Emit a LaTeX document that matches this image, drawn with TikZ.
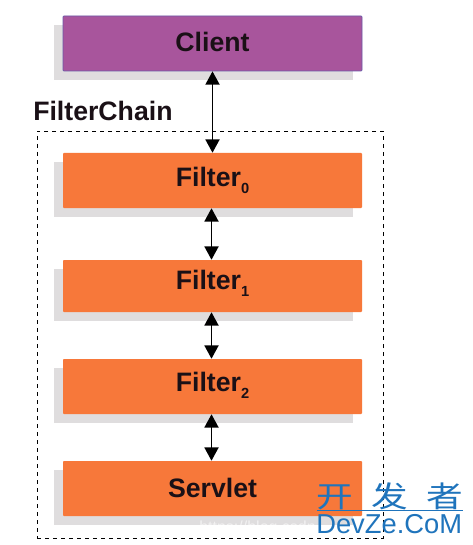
\documentclass[tikz,border=0pt]{standalone}
\usepackage{fontspec}
\setmainfont{Liberation Sans}
\newfontfamily\cjk{Noto Sans CJK SC}
\usetikzlibrary{arrows.meta}
\definecolor{orangebox}{HTML}{F7783A}
\definecolor{purplebox}{HTML}{A8559C}
\definecolor{clientedge}{HTML}{6A5AA8}
\definecolor{shadowgrey}{HTML}{DFDDDE}
\definecolor{markblue}{HTML}{1F74BC}
\definecolor{inktext}{HTML}{1A1016}
\newcommand{\lowsub}[1]{\raisebox{-5.5pt}{\fontsize{11}{12}\selectfont #1}}
\tikzset{
  x=0.75pt,y=-0.75pt,
  boxbase/.style={minimum width=224.25pt,minimum height=41.25pt,inner sep=0pt,rounded corners=0.7pt},
  boxtext/.style={anchor=base,inner sep=0pt,font=\bfseries\fontsize{20}{22}\selectfont,text=inktext},
  filterbox/.style={boxbase,fill=orangebox},
  clientbox/.style={boxbase,fill=purplebox,draw=clientedge,line width=0.5pt},
  shadowbox/.style={fill=shadowgrey},
  link/.style={line width=1.4pt,{Triangle[width=10.5pt,length=10pt]}-{Triangle[width=10.5pt,length=10pt]}},
}
\begin{document}
\begin{tikzpicture}
\useasboundingbox (0,0) rectangle (473,545);
\fill[white] (0,0) rectangle (473,545);
% shadows
\fill[shadowbox] (54,25) rectangle (353,80);
\fill[shadowbox] (54,162) rectangle (353,217);
\fill[shadowbox] (54,269) rectangle (353,321);
\fill[shadowbox] (54,368) rectangle (353,423);
\fill[shadowbox] (54,470) rectangle (353,525);
% boundary
\node[draw=black,dashed,line width=0.7pt,minimum width=259.5pt,minimum height=305.25pt,inner sep=0pt] (chain) at (210,334.5) {};
\node[anchor=base west,inner sep=0pt,font=\bfseries\fontsize{20}{22}\selectfont,text=inktext] (chainlabel) at (33,120.5) {FilterChain};
% boxes
\node[clientbox] (client) at (212.5,43.5) {};
\node[filterbox] (f0) at (212.5,180.5) {};
\node[filterbox,minimum height=39pt] (f1) at (212.5,286) {};
\node[filterbox] (f2) at (212.5,386.5) {};
\node[filterbox] (servlet) at (212.5,488.5) {};
% labels
\node[boxtext] (tclient) at (212.5,52) {Client};
\node[boxtext] (tf0) at (212.5,186) {Filter\lowsub{0}};
\node[boxtext] (tf1) at (212.5,289) {Filter\lowsub{1}};
\node[boxtext] (tf2) at (212.5,391) {Filter\lowsub{2}};
\node[boxtext] (tservlet) at (212.5,497) {Servlet};
% links
\draw[link] (client.south) -- (f0.north);
\draw[link] ([xshift=-0.75pt]f0.south) -- ([xshift=-0.75pt]f1.north);
\draw[link] ([xshift=-0.75pt]f1.south) -- ([xshift=-0.75pt]f2.north);
\draw[link] ([xshift=-0.75pt]f2.south) -- ([xshift=-0.75pt]servlet.north);
% watermark
\node[anchor=base west,inner sep=0pt,text=white,opacity=0.6,font=\fontsize{12}{13}\selectfont] (wmurl) at (199,532) {https://blog.csdn};
\node[anchor=base west,inner sep=0pt,text=markblue,xscale=1.25,font=\cjk\fontsize{22}{24}\selectfont] (wmcn) at (316,507) {开\hspace{11pt}发\hspace{11pt}者};
\draw[markblue,line width=0.4pt] (317,510.5) -- (463,510.5);
\node[anchor=base west,inner sep=0pt,text=markblue,font=\fontsize{20.5}{22}\selectfont] (wmen) at (316,533) {DevZe.CoM};
\end{tikzpicture}
\end{document}
